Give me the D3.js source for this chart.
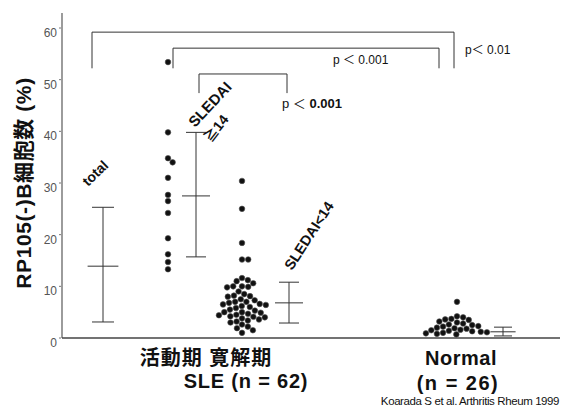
<!DOCTYPE html>
<html>
<head>
<meta charset="utf-8">
<script src="https://cdn.jsdelivr.net/npm/d3@7"></script>
<style>
  body { margin: 0; background: #fff; }
  svg { display: block; font-family: "Liberation Sans", Arial, "Noto Sans CJK JP", sans-serif; }
</style>
</head>
<body>
<div id="chart"></div>
<script>
// values (% of RP105(-) B cells)
const activeValues = [53.4, 39.8, 34.8, 34.0, 31.0, 27.7, 26.5, 24.2, 19.3, 16.2, 14.7, 13.3];
const remissionValues = [30.4, 25.0, 18.4, 15.2, 15.2,
  11.6, 11.2, 11.0, 10.6, 10.0, 10.0, 9.9, 9.8, 9.0, 8.5, 8.2, 8.1, 8.0, 7.5, 7.3,
  7.0, 7.0, 6.8, 6.6, 6.5, 6.4, 6.2, 6.0, 5.8, 5.5, 5.3, 5.0, 5.0, 4.9, 4.7, 4.5,
  4.4, 4.2, 4.1, 4.0, 3.8, 3.6, 3.4, 3.2, 3.0, 2.6, 2.2, 1.9, 1.5, 1.0];
const normalValues = [7.0, 4.2, 4.0, 3.7, 3.6, 3.5, 3.2, 3.0, 2.8, 2.6, 2.5, 2.3, 2.2,
  2.0, 1.9, 1.8, 1.6, 1.5, 1.4, 1.3, 1.2, 1.1, 1.0, 0.9, 0.8, 0.7];

// mean / range bars
const barKeys = ["total", "sledaiHi", "sledaiLo", "normalBar"];
const barMeans = [13.9, 27.5, 6.8, 1.2];
const barHigh = [25.3, 39.8, 10.8, 2.1];
const barLow = [3.1, 15.7, 2.9, 0.4];

const yTicks = [0, 10, 20, 30, 40, 50, 60];

// significance brackets
const bracketFrom = ["total", "active", "sledaiHi"];
const bracketTo = ["normal", "normal", "sledaiLo"];
const bracketTop = [59.2, 56.1, 51.1];
const bracketFoot = [52.2, 52.2, 47.4];
const bracketP = ["0.01", "0.001", "0.001"];

const width = 565, height = 408;

const svg = d3.select("#chart").append("svg")
  .attr("width", width)
  .attr("height", height);

const y = d3.scaleLinear().domain([0, 60]).range([338, 28]);

// column centres
const x = d3.scaleOrdinal()
  .domain(["total", "active", "sledaiHi", "remission", "sledaiLo", "normal", "normalBar"])
  .range([103, 168, 196, 242, 289, 457, 503]);

// axes
svg.append("line")
  .attr("x1", 62).attr("x2", 62)
  .attr("y1", 13).attr("y2", y(0))
  .attr("stroke", "#666").attr("stroke-width", 1.3);

svg.append("line")
  .attr("x1", 62).attr("x2", 560)
  .attr("y1", y(0)).attr("y2", y(0))
  .attr("stroke", "#444").attr("stroke-width", 1.5);

svg.selectAll(".ytick")
  .data(yTicks)
  .join("text")
  .attr("class", "ytick")
  .attr("x", 57)
  .attr("y", d => y(d) + 9)
  .attr("text-anchor", "end")
  .attr("font-size", 12)
  .attr("fill", "#555")
  .text(d => d);

svg.selectAll(".ytickmark")
  .data(yTicks)
  .join("line")
  .attr("class", "ytickmark")
  .attr("x1", 59).attr("x2", 61)
  .attr("y1", d => y(d)).attr("y2", d => y(d))
  .attr("stroke", "#777");

// y title
svg.append("text")
  .attr("transform", `translate(31,${183}) rotate(-90)`)
  .attr("text-anchor", "middle")
  .attr("font-size", 21)
  .attr("font-weight", "bold")
  .attr("letter-spacing", 0.6)
  .attr("fill", "#111")
  .text("RP105(-)B細胞数 (%)");

// simple beeswarm: nudge dots sideways so they don't overlap
const r = 2.8;
function swarm(values, cx) {
  const placed = [];
  values.slice().sort((a, b) => b - a).forEach(v => {
    const py = y(v);
    const gap = 2 * r + 0.6;
    const near = placed.filter(p => Math.abs(p.y - py) < gap);
    const cands = [0];
    near.forEach(p => {
      const dx = Math.sqrt(Math.max(0, gap ** 2 - (p.y - py) ** 2));
      cands.push(p.dx + dx, p.dx - dx);
    });
    cands.sort((a, b) => Math.abs(a) - Math.abs(b));
    const ok = cands.find(c => near.every(p => Math.hypot(p.dx - c, p.y - py) >= gap - 0.1));
    placed.push({ v: v, y: py, dx: ok });
  });
  return placed.map(p => ({ x: cx + p.dx, y: p.y }));
}

const dots = [].concat(
  swarm(activeValues, x("active")),
  swarm(remissionValues, x("remission")),
  swarm(normalValues, x("normal"))
);

svg.selectAll(".dot")
  .data(dots)
  .join("circle")
  .attr("class", "dot")
  .attr("cx", d => d.x)
  .attr("cy", d => d.y)
  .attr("r", r)
  .attr("fill", "#111")
  .attr("stroke", "#555")
  .attr("stroke-width", 0.6);

// mean +/- range bars
const bars = barKeys.map((k, i) => ({ key: k, mean: barMeans[i], hi: barHigh[i], lo: barLow[i] }));
const capW = { total: 11, sledaiHi: 10, sledaiLo: 10, normalBar: 9 };

const barG = svg.selectAll(".bar")
  .data(bars)
  .join("g")
  .attr("class", "bar")
  .attr("stroke", "#333")
  .attr("stroke-width", 1);

barG.append("line")
  .attr("x1", d => x(d.key)).attr("x2", d => x(d.key))
  .attr("y1", d => y(d.hi)).attr("y2", d => y(d.lo));
barG.append("line")
  .attr("x1", d => x(d.key) - capW[d.key]).attr("x2", d => x(d.key) + capW[d.key])
  .attr("y1", d => y(d.hi)).attr("y2", d => y(d.hi));
barG.append("line")
  .attr("x1", d => x(d.key) - capW[d.key]).attr("x2", d => x(d.key) + capW[d.key])
  .attr("y1", d => y(d.lo)).attr("y2", d => y(d.lo));
barG.append("line")
  .attr("x1", d => x(d.key) - capW[d.key] * 1.4).attr("x2", d => x(d.key) + capW[d.key] * 1.4)
  .attr("y1", d => y(d.mean)).attr("y2", d => y(d.mean));

// brackets
const nudgeFrom = [-11, 5, 3];
const nudgeTo = [-3, -18, -2];
const brackets = bracketFrom.map((f, i) => ({
  x1: x(f) + nudgeFrom[i], x2: x(bracketTo[i]) + nudgeTo[i],
  top: y(bracketTop[i]), foot: y(bracketFoot[i]), p: bracketP[i]
}));

svg.selectAll(".bracket")
  .data(brackets)
  .join("path")
  .attr("class", "bracket")
  .attr("d", d => `M${d.x1},${d.foot}V${d.top}H${d.x2}V${d.foot}`)
  .attr("fill", "none")
  .attr("stroke", "#333")
  .attr("stroke-width", 1);

// p-value labels
const pLabels = [
  { x: brackets[0].x2 + 11, y: 54, size: 12, bold: false },
  { x: 333, y: 64, size: 12, bold: false },
  { x: brackets[2].x2 - 5, y: 108, size: 13, bold: true }
];
pLabels.forEach((l, i) => {
  const t = svg.append("text")
    .attr("x", l.x).attr("y", l.y)
    .attr("font-size", l.size)
    .attr("fill", "#111");
  t.append("tspan").text(i === 0 ? "p" : "p ");
  t.append("tspan").attr("font-family", "Noto Sans CJK JP").text("＜");
  t.append("tspan").attr("font-weight", l.bold ? "bold" : "normal").text(" " + bracketP[i]);
});

// rotated group labels
function rotLabel(txt, px, py, ang, size) {
  svg.append("text")
    .attr("transform", `translate(${px},${py}) rotate(${ang})`)
    .attr("font-size", size)
    .attr("font-weight", "bold")
    .attr("fill", "#111")
    .text(txt);
}
rotLabel("total", x("total") - 15, 187, -44, 14);
rotLabel("SLEDAI", x("sledaiHi") - 1, 128, -47, 15);
rotLabel("≧14", x("sledaiHi") + 15, 143, -52, 14);
rotLabel("SLEDAI<14", x("sledaiLo") + 3, 271, -57, 14.5);

// x labels
const xText = [
  { t: "活動期 寛解期", x: 206, y: 365, ls: 1 },
  { t: "SLE (n = 62)", x: 246, y: 388, ls: 0.8 },
  { t: "Normal", x: 461, y: 365, ls: 0.5 },
  { t: "(n = 26)", x: 458, y: 390, ls: 1.5 }
];
svg.selectAll(".xlab")
  .data(xText)
  .join("text")
  .attr("class", "xlab")
  .attr("x", d => d.x).attr("y", d => d.y)
  .attr("text-anchor", "middle")
  .attr("font-size", 20)
  .attr("font-weight", "bold")
  .attr("letter-spacing", d => d.ls)
  .attr("fill", "#111")
  .text(d => d.t);

svg.append("text")
  .attr("x", 470).attr("y", 405)
  .attr("text-anchor", "middle")
  .attr("font-size", 11.5)
  .attr("letter-spacing", -0.4)
  .attr("fill", "#111")
  .text("Koarada S et al. Arthritis Rheum 1999");
</script>
</body>
</html>
